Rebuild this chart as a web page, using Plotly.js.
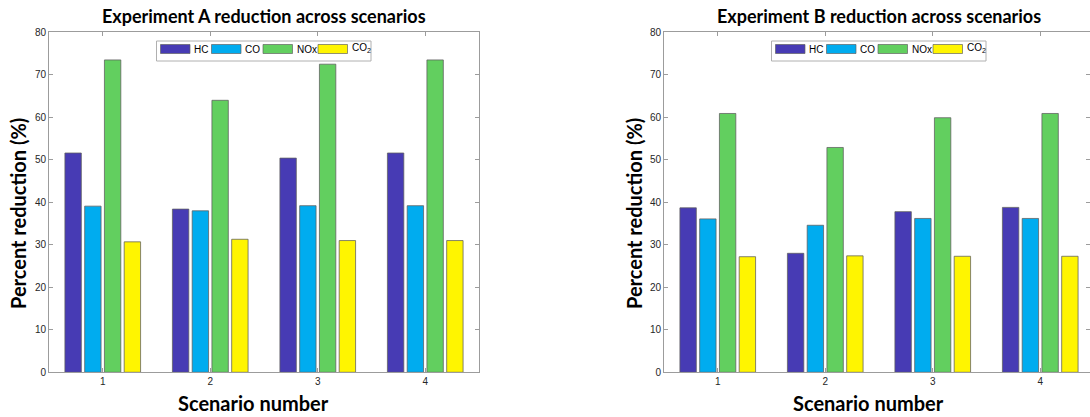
<!DOCTYPE html>
<html>
<head>
<meta charset="utf-8">
<script src="https://cdn.plot.ly/plotly-3.0.1.min.js"></script>
<style>
  html, body { margin: 0; padding: 0; background: #ffffff; }
  #chart { width: 1090px; height: 417px; }
</style>
</head>
<body>
<div id="chart"></div>
<script>
// Scenario categories and pollutant series
const scenarios = [1, 2, 3, 4];
const pollutants = ['HC', 'CO', 'NOx', 'CO<sub>2</sub>'];
const seriesColors = ['#473bb4', '#00acef', '#62cf5f', '#fff500'];

// Experiment A: percent reduction per scenario
const expA_HC  = [51.6, 38.4, 50.4, 51.6];
const expA_CO  = [39.1, 38.0, 39.2, 39.2];
const expA_NOx = [73.5, 64.0, 72.5, 73.5];
const expA_CO2 = [30.7, 31.3, 31.0, 31.0];

// Experiment B: percent reduction per scenario
const expB_HC  = [38.7, 28.0, 37.8, 38.8];
const expB_CO  = [36.1, 34.6, 36.2, 36.2];
const expB_NOx = [60.9, 52.9, 59.9, 60.9];
const expB_CO2 = [27.2, 27.4, 27.3, 27.3];

const yTicks = [0, 10, 20, 30, 40, 50, 60, 70, 80];

const W = 1090, H = 417;
const px = p => p / W;          // horizontal pixel -> paper
const py = p => 1 - p / H;      // vertical pixel (from top) -> paper

// Plot-area placement in pixels
const plotTop = 32.3, plotBottom = 372.3;
const unitPx = 107.5;           // pixels per scenario step
const A = { left: 49, right: 479 };
const B = { left: 664, right: 1090 };

const groups = [
  { name: 'A', box: A, xa: 'x',  ya: 'y',  data: [expA_HC, expA_CO, expA_NOx, expA_CO2],
    title: 'Experiment A reduction across scenarios', titleX: 264, xLabelX: 253, yLabelX: 18 },
  { name: 'B', box: B, xa: 'x2', ya: 'y2', data: [expB_HC, expB_CO, expB_NOx, expB_CO2],
    title: 'Experiment B reduction across scenarios', titleX: 879, xLabelX: 868, yLabelX: 634 }
];

const traces = [];
groups.forEach(g => {
  g.data.forEach((vals, i) => {
    traces.push({
      type: 'bar',
      x: scenarios,
      y: vals,
      name: pollutants[i],
      xaxis: g.xa,
      yaxis: g.ya,
      marker: { color: seriesColors[i], line: { color: 'rgba(95,95,95,0.85)', width: 0.9 } },
      showlegend: false,
      hoverinfo: 'x+y+name'
    });
  });
});

const axisLine = '#9c9c9c';
const tickFont = { family: 'Liberation Sans, Arial, sans-serif', size: 10, color: '#262626' };
const labelFont = { family: 'Lato, sans-serif', size: 20, color: '#000000', weight: 'bold' };

function xAxis(box, anchor) {
  return {
    domain: [px(box.left), px(box.right)],
    range: [0.5, 0.5 + (box.right - box.left) / unitPx],
    anchor: anchor,
    tickmode: 'array', tickvals: scenarios, ticktext: scenarios.map(String),
    ticks: 'inside', ticklen: 4, tickwidth: 1, tickcolor: axisLine,
    showline: true, linecolor: axisLine, linewidth: 1, mirror: 'ticks',
    showgrid: false, zeroline: false, fixedrange: true,
    tickfont: tickFont
  };
}
function yAxis(anchor) {
  return {
    domain: [py(plotBottom), py(plotTop)],
    range: [0, 80],
    anchor: anchor,
    tickmode: 'array', tickvals: yTicks, ticktext: yTicks.map(String),
    ticks: 'inside', ticklen: 4, tickwidth: 1, tickcolor: axisLine,
    showline: true, linecolor: axisLine, linewidth: 1, mirror: 'ticks',
    showgrid: false, zeroline: false, fixedrange: true,
    tickfont: tickFont
  };
}

const shapes = [];
const annotations = [];

groups.forEach(g => {
  const L = g.box.left;
  // panel title
  annotations.push({
    xref: 'paper', yref: 'paper', x: px(g.titleX), y: py(16), xanchor: 'center', yanchor: 'middle',
    text: g.title, showarrow: false,
    font: { family: 'Lato, sans-serif', size: 18, color: '#000000', weight: 'bold' }
  });
  // axis titles
  annotations.push({
    xref: 'paper', yref: 'paper', x: px(g.xLabelX), y: py(403), xanchor: 'center', yanchor: 'middle',
    text: 'Scenario number', showarrow: false, font: labelFont
  });
  annotations.push({
    xref: 'paper', yref: 'paper', x: px(g.yLabelX), y: py(214), xanchor: 'center', yanchor: 'middle',
    text: 'Percent reduction (%)', textangle: -90, showarrow: false, font: labelFont
  });
  // legend box
  shapes.push({
    type: 'rect', xref: 'paper', yref: 'paper', layer: 'above',
    x0: px(L + 107.5), x1: px(L + 322), y0: py(61), y1: py(41),
    fillcolor: '#ffffff', line: { color: '#b0b0b0', width: 1 }
  });
  const swatchX = [111.5, 162.5, 214, 269];
  pollutants.forEach((p, i) => {
    const sx = L + swatchX[i];
    shapes.push({
      type: 'rect', xref: 'paper', yref: 'paper', layer: 'above',
      x0: px(sx), x1: px(sx + 29.5), y0: py(53.5), y1: py(44.5),
      fillcolor: seriesColors[i], line: { color: 'rgba(95,95,95,0.85)', width: 0.8 }
    });
    annotations.push({
      xref: 'paper', yref: 'paper', x: px(sx + 31.5), y: py(i === 3 ? 48 : 49), xanchor: 'left', yanchor: 'middle',
      text: p, showarrow: false,
      font: { family: 'Liberation Sans, Arial, sans-serif', size: 10, color: '#000000' }
    });
  });
});

const layout = {
  width: W, height: H,
  margin: { l: 0, r: 0, t: 0, b: 0, pad: 0 },
  paper_bgcolor: '#ffffff', plot_bgcolor: '#ffffff',
  barmode: 'group', bargap: 0.265, bargroupgap: 0.17,
  showlegend: false,
  xaxis: xAxis(A, 'y'),
  yaxis: yAxis('x'),
  xaxis2: xAxis(B, 'y2'),
  yaxis2: yAxis('x2'),
  shapes: shapes,
  annotations: annotations
};

Plotly.newPlot('chart', traces, layout, { displayModeBar: false, staticPlot: true });
</script>
</body>
</html>
